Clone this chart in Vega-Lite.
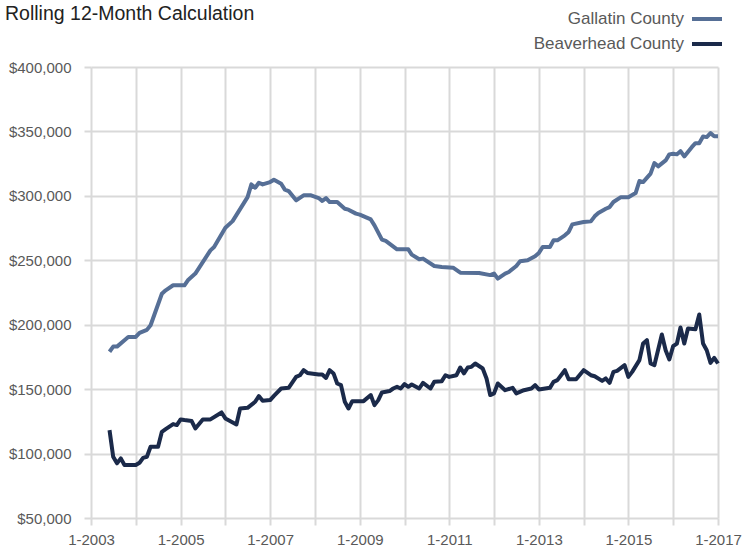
{
  "$schema": "https://vega.github.io/schema/vega-lite/v6.json",
  "autosize": "none",
  "width": 627,
  "height": 451,
  "padding": {"left": 91, "top": 67, "right": 25, "bottom": 34},
  "background": "white",
  "title": {
    "text": "Rolling 12-Month Calculation",
    "anchor": "start",
    "frame": "group",
    "dx": -86,
    "dy": 26,
    "font": "Liberation Sans",
    "fontSize": 19.5,
    "fontWeight": "normal",
    "color": "#222222"
  },
  "config": {
    "view": {"stroke": null},
    "axis": {
      "labelFont": "Liberation Sans",
      "labelFontSize": 15,
      "labelColor": "#595959",
      "gridColor": "#d9d9d9",
      "gridWidth": 2,
      "tickColor": "#d9d9d9",
      "tickWidth": 2,
      "tickSize": 7,
      "domain": false,
      "title": null
    }
  },
  "data": {
    "values": [
      {"date": "2003-06-01", "county": "Gallatin County", "value": 179000},
      {"date": "2003-07-01", "county": "Gallatin County", "value": 183000},
      {"date": "2003-08-01", "county": "Gallatin County", "value": 183000},
      {"date": "2003-10-01", "county": "Gallatin County", "value": 188000},
      {"date": "2003-11-01", "county": "Gallatin County", "value": 190500},
      {"date": "2004-01-01", "county": "Gallatin County", "value": 190500},
      {"date": "2004-02-01", "county": "Gallatin County", "value": 193600},
      {"date": "2004-04-01", "county": "Gallatin County", "value": 196000},
      {"date": "2004-05-01", "county": "Gallatin County", "value": 199600},
      {"date": "2004-08-01", "county": "Gallatin County", "value": 224000},
      {"date": "2004-09-01", "county": "Gallatin County", "value": 226700},
      {"date": "2004-11-01", "county": "Gallatin County", "value": 230600},
      {"date": "2005-02-01", "county": "Gallatin County", "value": 230600},
      {"date": "2005-03-01", "county": "Gallatin County", "value": 234500},
      {"date": "2005-05-01", "county": "Gallatin County", "value": 239700},
      {"date": "2005-09-01", "county": "Gallatin County", "value": 257700},
      {"date": "2005-10-01", "county": "Gallatin County", "value": 260300},
      {"date": "2006-01-01", "county": "Gallatin County", "value": 275300},
      {"date": "2006-03-01", "county": "Gallatin County", "value": 280400},
      {"date": "2006-07-01", "county": "Gallatin County", "value": 299000},
      {"date": "2006-08-01", "county": "Gallatin County", "value": 308900},
      {"date": "2006-09-01", "county": "Gallatin County", "value": 306300},
      {"date": "2006-10-01", "county": "Gallatin County", "value": 310200},
      {"date": "2006-11-01", "county": "Gallatin County", "value": 308900},
      {"date": "2007-01-01", "county": "Gallatin County", "value": 310700},
      {"date": "2007-02-01", "county": "Gallatin County", "value": 312500},
      {"date": "2007-04-01", "county": "Gallatin County", "value": 309400},
      {"date": "2007-05-01", "county": "Gallatin County", "value": 304800},
      {"date": "2007-06-01", "county": "Gallatin County", "value": 303700},
      {"date": "2007-08-01", "county": "Gallatin County", "value": 296500},
      {"date": "2007-10-01", "county": "Gallatin County", "value": 300400},
      {"date": "2007-12-01", "county": "Gallatin County", "value": 300400},
      {"date": "2008-02-01", "county": "Gallatin County", "value": 298300},
      {"date": "2008-03-01", "county": "Gallatin County", "value": 296000},
      {"date": "2008-04-01", "county": "Gallatin County", "value": 298300},
      {"date": "2008-05-01", "county": "Gallatin County", "value": 295200},
      {"date": "2008-07-01", "county": "Gallatin County", "value": 295200},
      {"date": "2008-09-01", "county": "Gallatin County", "value": 290000},
      {"date": "2008-10-01", "county": "Gallatin County", "value": 289300},
      {"date": "2008-12-01", "county": "Gallatin County", "value": 286200},
      {"date": "2009-01-01", "county": "Gallatin County", "value": 285400},
      {"date": "2009-04-01", "county": "Gallatin County", "value": 281700},
      {"date": "2009-05-01", "county": "Gallatin County", "value": 277100},
      {"date": "2009-07-01", "county": "Gallatin County", "value": 266000},
      {"date": "2009-08-01", "county": "Gallatin County", "value": 265000},
      {"date": "2009-11-01", "county": "Gallatin County", "value": 258500},
      {"date": "2010-02-01", "county": "Gallatin County", "value": 258500},
      {"date": "2010-03-01", "county": "Gallatin County", "value": 254400},
      {"date": "2010-05-01", "county": "Gallatin County", "value": 250800},
      {"date": "2010-06-01", "county": "Gallatin County", "value": 251300},
      {"date": "2010-09-01", "county": "Gallatin County", "value": 245600},
      {"date": "2010-11-01", "county": "Gallatin County", "value": 244800},
      {"date": "2011-02-01", "county": "Gallatin County", "value": 244300},
      {"date": "2011-04-01", "county": "Gallatin County", "value": 240400},
      {"date": "2011-09-01", "county": "Gallatin County", "value": 240200},
      {"date": "2011-12-01", "county": "Gallatin County", "value": 238500},
      {"date": "2012-01-01", "county": "Gallatin County", "value": 239700},
      {"date": "2012-02-01", "county": "Gallatin County", "value": 235800},
      {"date": "2012-04-01", "county": "Gallatin County", "value": 239700},
      {"date": "2012-05-01", "county": "Gallatin County", "value": 240900},
      {"date": "2012-07-01", "county": "Gallatin County", "value": 245600},
      {"date": "2012-08-01", "county": "Gallatin County", "value": 249200},
      {"date": "2012-10-01", "county": "Gallatin County", "value": 250000},
      {"date": "2012-12-01", "county": "Gallatin County", "value": 253100},
      {"date": "2013-01-01", "county": "Gallatin County", "value": 255700},
      {"date": "2013-02-01", "county": "Gallatin County", "value": 260300},
      {"date": "2013-04-01", "county": "Gallatin County", "value": 260300},
      {"date": "2013-05-01", "county": "Gallatin County", "value": 265500},
      {"date": "2013-06-01", "county": "Gallatin County", "value": 265500},
      {"date": "2013-08-01", "county": "Gallatin County", "value": 269400},
      {"date": "2013-09-01", "county": "Gallatin County", "value": 272000},
      {"date": "2013-10-01", "county": "Gallatin County", "value": 277900},
      {"date": "2014-01-01", "county": "Gallatin County", "value": 279700},
      {"date": "2014-03-01", "county": "Gallatin County", "value": 280200},
      {"date": "2014-04-01", "county": "Gallatin County", "value": 284100},
      {"date": "2014-05-01", "county": "Gallatin County", "value": 286700},
      {"date": "2014-07-01", "county": "Gallatin County", "value": 290000},
      {"date": "2014-08-01", "county": "Gallatin County", "value": 291300},
      {"date": "2014-09-01", "county": "Gallatin County", "value": 295200},
      {"date": "2014-11-01", "county": "Gallatin County", "value": 299000},
      {"date": "2015-01-01", "county": "Gallatin County", "value": 299000},
      {"date": "2015-03-01", "county": "Gallatin County", "value": 302200},
      {"date": "2015-04-01", "county": "Gallatin County", "value": 311500},
      {"date": "2015-05-01", "county": "Gallatin County", "value": 310700},
      {"date": "2015-07-01", "county": "Gallatin County", "value": 317200},
      {"date": "2015-08-01", "county": "Gallatin County", "value": 325400},
      {"date": "2015-09-01", "county": "Gallatin County", "value": 322900},
      {"date": "2015-11-01", "county": "Gallatin County", "value": 327500},
      {"date": "2015-12-01", "county": "Gallatin County", "value": 332200},
      {"date": "2016-01-01", "county": "Gallatin County", "value": 332700},
      {"date": "2016-02-01", "county": "Gallatin County", "value": 332200},
      {"date": "2016-03-01", "county": "Gallatin County", "value": 334700},
      {"date": "2016-04-01", "county": "Gallatin County", "value": 330600},
      {"date": "2016-06-01", "county": "Gallatin County", "value": 337800},
      {"date": "2016-07-01", "county": "Gallatin County", "value": 340900},
      {"date": "2016-08-01", "county": "Gallatin County", "value": 340900},
      {"date": "2016-09-01", "county": "Gallatin County", "value": 346100},
      {"date": "2016-10-01", "county": "Gallatin County", "value": 345600},
      {"date": "2016-11-01", "county": "Gallatin County", "value": 348700},
      {"date": "2016-12-01", "county": "Gallatin County", "value": 346300},
      {"date": "2017-01-01", "county": "Gallatin County", "value": 346300},

      {"date": "2003-06-01", "county": "Beaverhead County", "value": 118200},
      {"date": "2003-07-01", "county": "Beaverhead County", "value": 97500},
      {"date": "2003-08-01", "county": "Beaverhead County", "value": 92400},
      {"date": "2003-09-01", "county": "Beaverhead County", "value": 96300},
      {"date": "2003-10-01", "county": "Beaverhead County", "value": 91100},
      {"date": "2004-01-01", "county": "Beaverhead County", "value": 91100},
      {"date": "2004-02-01", "county": "Beaverhead County", "value": 92900},
      {"date": "2004-03-01", "county": "Beaverhead County", "value": 96700},
      {"date": "2004-04-01", "county": "Beaverhead County", "value": 97500},
      {"date": "2004-05-01", "county": "Beaverhead County", "value": 105300},
      {"date": "2004-07-01", "county": "Beaverhead County", "value": 105300},
      {"date": "2004-08-01", "county": "Beaverhead County", "value": 116900},
      {"date": "2004-09-01", "county": "Beaverhead County", "value": 119000},
      {"date": "2004-11-01", "county": "Beaverhead County", "value": 122900},
      {"date": "2004-12-01", "county": "Beaverhead County", "value": 122100},
      {"date": "2005-01-01", "county": "Beaverhead County", "value": 126500},
      {"date": "2005-02-01", "county": "Beaverhead County", "value": 126000},
      {"date": "2005-04-01", "county": "Beaverhead County", "value": 125200},
      {"date": "2005-05-01", "county": "Beaverhead County", "value": 119500},
      {"date": "2005-07-01", "county": "Beaverhead County", "value": 126500},
      {"date": "2005-09-01", "county": "Beaverhead County", "value": 126500},
      {"date": "2005-12-01", "county": "Beaverhead County", "value": 131900},
      {"date": "2006-01-01", "county": "Beaverhead County", "value": 127300},
      {"date": "2006-04-01", "county": "Beaverhead County", "value": 122600},
      {"date": "2006-05-01", "county": "Beaverhead County", "value": 135000},
      {"date": "2006-07-01", "county": "Beaverhead County", "value": 135500},
      {"date": "2006-09-01", "county": "Beaverhead County", "value": 140200},
      {"date": "2006-10-01", "county": "Beaverhead County", "value": 144600},
      {"date": "2006-11-01", "county": "Beaverhead County", "value": 141000},
      {"date": "2007-01-01", "county": "Beaverhead County", "value": 141500},
      {"date": "2007-02-01", "county": "Beaverhead County", "value": 144800},
      {"date": "2007-04-01", "county": "Beaverhead County", "value": 150500},
      {"date": "2007-06-01", "county": "Beaverhead County", "value": 151000},
      {"date": "2007-08-01", "county": "Beaverhead County", "value": 159500},
      {"date": "2007-09-01", "county": "Beaverhead County", "value": 160800},
      {"date": "2007-10-01", "county": "Beaverhead County", "value": 164700},
      {"date": "2007-11-01", "county": "Beaverhead County", "value": 162600},
      {"date": "2008-02-01", "county": "Beaverhead County", "value": 161400},
      {"date": "2008-03-01", "county": "Beaverhead County", "value": 161400},
      {"date": "2008-04-01", "county": "Beaverhead County", "value": 158700},
      {"date": "2008-05-01", "county": "Beaverhead County", "value": 164700},
      {"date": "2008-06-01", "county": "Beaverhead County", "value": 162200},
      {"date": "2008-07-01", "county": "Beaverhead County", "value": 154400},
      {"date": "2008-08-01", "county": "Beaverhead County", "value": 153100},
      {"date": "2008-09-01", "county": "Beaverhead County", "value": 140200},
      {"date": "2008-10-01", "county": "Beaverhead County", "value": 135000},
      {"date": "2008-11-01", "county": "Beaverhead County", "value": 140700},
      {"date": "2009-02-01", "county": "Beaverhead County", "value": 140700},
      {"date": "2009-04-01", "county": "Beaverhead County", "value": 145400},
      {"date": "2009-05-01", "county": "Beaverhead County", "value": 137600},
      {"date": "2009-06-01", "county": "Beaverhead County", "value": 141500},
      {"date": "2009-07-01", "county": "Beaverhead County", "value": 147400},
      {"date": "2009-09-01", "county": "Beaverhead County", "value": 148500},
      {"date": "2009-10-01", "county": "Beaverhead County", "value": 150500},
      {"date": "2009-11-01", "county": "Beaverhead County", "value": 151800},
      {"date": "2009-12-01", "county": "Beaverhead County", "value": 150500},
      {"date": "2010-01-01", "county": "Beaverhead County", "value": 153900},
      {"date": "2010-02-01", "county": "Beaverhead County", "value": 151800},
      {"date": "2010-03-01", "county": "Beaverhead County", "value": 153600},
      {"date": "2010-05-01", "county": "Beaverhead County", "value": 150500},
      {"date": "2010-06-01", "county": "Beaverhead County", "value": 154900},
      {"date": "2010-08-01", "county": "Beaverhead County", "value": 150500},
      {"date": "2010-09-01", "county": "Beaverhead County", "value": 155700},
      {"date": "2010-11-01", "county": "Beaverhead County", "value": 156200},
      {"date": "2010-12-01", "county": "Beaverhead County", "value": 160800},
      {"date": "2011-01-01", "county": "Beaverhead County", "value": 159500},
      {"date": "2011-03-01", "county": "Beaverhead County", "value": 160800},
      {"date": "2011-04-01", "county": "Beaverhead County", "value": 166800},
      {"date": "2011-05-01", "county": "Beaverhead County", "value": 162200},
      {"date": "2011-06-01", "county": "Beaverhead County", "value": 166800},
      {"date": "2011-07-01", "county": "Beaverhead County", "value": 167300},
      {"date": "2011-08-01", "county": "Beaverhead County", "value": 169900},
      {"date": "2011-10-01", "county": "Beaverhead County", "value": 166000},
      {"date": "2011-11-01", "county": "Beaverhead County", "value": 158300},
      {"date": "2011-12-01", "county": "Beaverhead County", "value": 145400},
      {"date": "2012-01-01", "county": "Beaverhead County", "value": 146700},
      {"date": "2012-02-01", "county": "Beaverhead County", "value": 154400},
      {"date": "2012-04-01", "county": "Beaverhead County", "value": 149200},
      {"date": "2012-06-01", "county": "Beaverhead County", "value": 151000},
      {"date": "2012-07-01", "county": "Beaverhead County", "value": 146700},
      {"date": "2012-09-01", "county": "Beaverhead County", "value": 149200},
      {"date": "2012-11-01", "county": "Beaverhead County", "value": 150500},
      {"date": "2012-12-01", "county": "Beaverhead County", "value": 153100},
      {"date": "2013-01-01", "county": "Beaverhead County", "value": 149800},
      {"date": "2013-04-01", "county": "Beaverhead County", "value": 151000},
      {"date": "2013-05-01", "county": "Beaverhead County", "value": 155700},
      {"date": "2013-06-01", "county": "Beaverhead County", "value": 157000},
      {"date": "2013-08-01", "county": "Beaverhead County", "value": 164700},
      {"date": "2013-09-01", "county": "Beaverhead County", "value": 157700},
      {"date": "2013-11-01", "county": "Beaverhead County", "value": 157700},
      {"date": "2014-01-01", "county": "Beaverhead County", "value": 164700},
      {"date": "2014-03-01", "county": "Beaverhead County", "value": 160800},
      {"date": "2014-04-01", "county": "Beaverhead County", "value": 160000},
      {"date": "2014-06-01", "county": "Beaverhead County", "value": 156400},
      {"date": "2014-07-01", "county": "Beaverhead County", "value": 158300},
      {"date": "2014-08-01", "county": "Beaverhead County", "value": 154900},
      {"date": "2014-09-01", "county": "Beaverhead County", "value": 163400},
      {"date": "2014-10-01", "county": "Beaverhead County", "value": 164200},
      {"date": "2014-12-01", "county": "Beaverhead County", "value": 168600},
      {"date": "2015-01-01", "county": "Beaverhead County", "value": 159500},
      {"date": "2015-02-01", "county": "Beaverhead County", "value": 163400},
      {"date": "2015-04-01", "county": "Beaverhead County", "value": 172500},
      {"date": "2015-05-01", "county": "Beaverhead County", "value": 185400},
      {"date": "2015-06-01", "county": "Beaverhead County", "value": 188000},
      {"date": "2015-07-01", "county": "Beaverhead County", "value": 169900},
      {"date": "2015-08-01", "county": "Beaverhead County", "value": 168600},
      {"date": "2015-10-01", "county": "Beaverhead County", "value": 192400},
      {"date": "2015-11-01", "county": "Beaverhead County", "value": 180200},
      {"date": "2015-12-01", "county": "Beaverhead County", "value": 173000},
      {"date": "2016-01-01", "county": "Beaverhead County", "value": 183300},
      {"date": "2016-02-01", "county": "Beaverhead County", "value": 185400},
      {"date": "2016-03-01", "county": "Beaverhead County", "value": 197800},
      {"date": "2016-04-01", "county": "Beaverhead County", "value": 185400},
      {"date": "2016-05-01", "county": "Beaverhead County", "value": 197000},
      {"date": "2016-07-01", "county": "Beaverhead County", "value": 196500},
      {"date": "2016-08-01", "county": "Beaverhead County", "value": 207900},
      {"date": "2016-09-01", "county": "Beaverhead County", "value": 185400},
      {"date": "2016-10-01", "county": "Beaverhead County", "value": 180200},
      {"date": "2016-11-01", "county": "Beaverhead County", "value": 170400},
      {"date": "2016-12-01", "county": "Beaverhead County", "value": 174300},
      {"date": "2017-01-01", "county": "Beaverhead County", "value": 169900}
    ]
  },
  "mark": {"type": "line", "strokeWidth": 4, "strokeJoin": "round"},
  "encoding": {
    "x": {
      "field": "date",
      "type": "temporal",
      "scale": {"type": "utc", "domain": ["2003-01-01", "2017-01-01"], "nice": false},
      "axis": {
        "tickCount": {"interval": "year", "step": 1},
        "labelExpr": "utcyear(datum.value) % 2 == 1 ? utcFormat(datum.value, '%-m-%Y') : ''",
        "labelPadding": 7,
        "labelFlush": false,
        "labelOverlap": false
      }
    },
    "y": {
      "field": "value",
      "type": "quantitative",
      "scale": {"domain": [50000, 400000], "nice": false, "zero": false},
      "axis": {
        "values": [50000, 100000, 150000, 200000, 250000, 300000, 350000, 400000],
        "format": "$,.0f",
        "labelPadding": 13
      }
    },
    "color": {
      "field": "county",
      "type": "nominal",
      "sort": ["Gallatin County", "Beaverhead County"],
      "scale": {"domain": ["Gallatin County", "Beaverhead County"], "range": ["#566f96", "#1b2a4a"]},
      "legend": {
        "orient": "none",
        "legendX": 599,
        "legendY": -65,
        "title": null,
        "direction": "vertical",
        "symbolType": "stroke",
        "symbolSize": 900,
        "symbolStrokeWidth": 4,
        "labelAlign": "right",
        "labelOffset": -40,
        "labelFont": "Liberation Sans",
        "labelFontSize": 17,
        "labelColor": "#595959",
        "rowPadding": 0
      }
    }
  }
}
